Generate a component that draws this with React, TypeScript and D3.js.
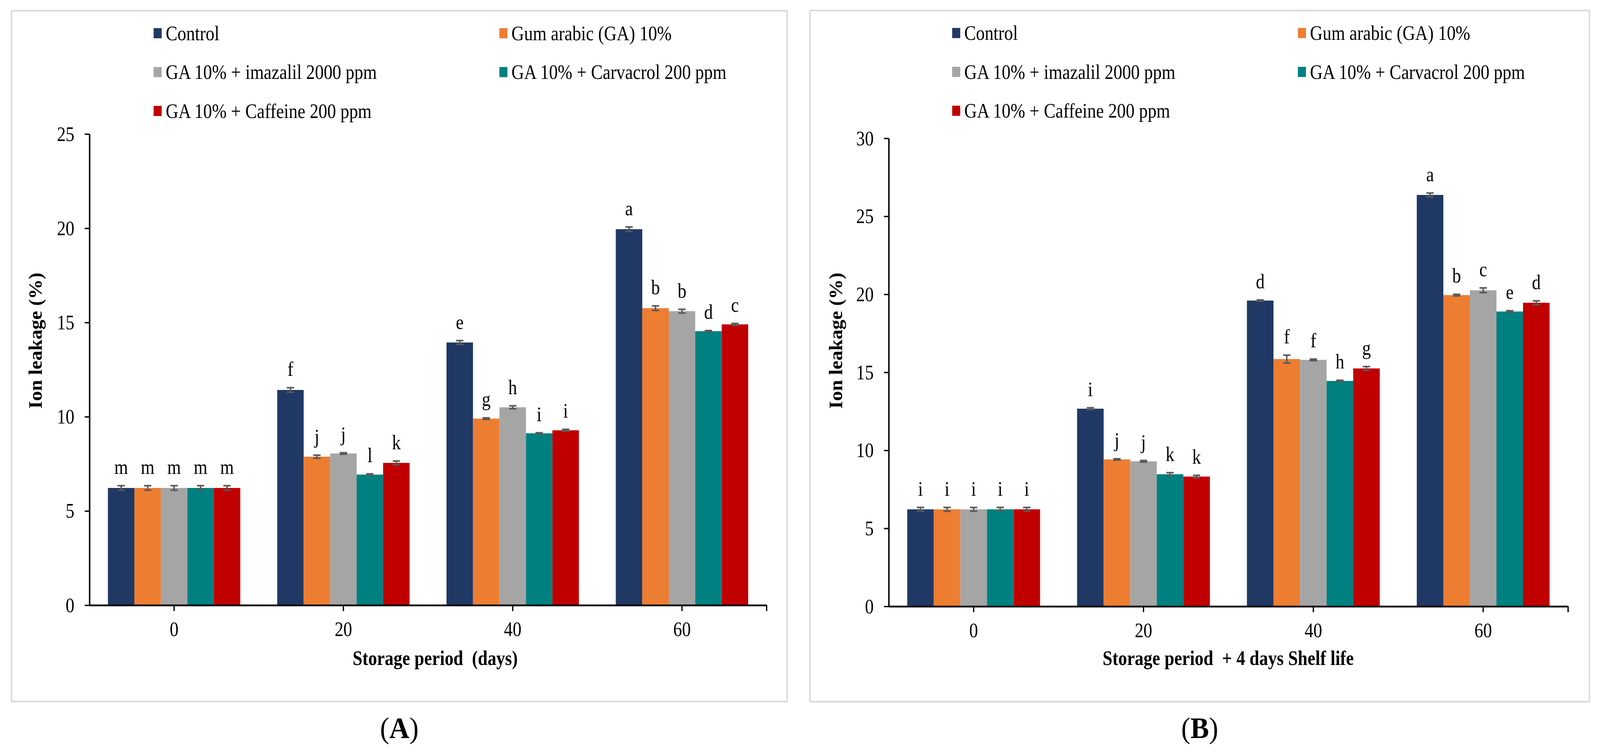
import React, { useEffect, useRef } from "react";
import * as d3 from "d3";

// categories and series
const periods = ["0", "20", "40", "60"];
const treatments = [
  "Control",
  "Gum arabic (GA) 10%",
  "GA 10% + imazalil 2000 ppm",
  "GA 10% + Carvacrol 200 ppm",
  "GA 10% + Caffeine 200 ppm",
];
const colors = ["#203864", "#ED7D31", "#A5A5A5", "#008080", "#C00000"];

// (A) storage period, rows = treatments, columns = periods
const valuesA = [
  [6.22, 11.42, 13.94, 19.95],
  [6.22, 7.88, 9.9, 15.76],
  [6.22, 8.05, 10.5, 15.6],
  [6.22, 6.93, 9.12, 14.54],
  [6.22, 7.55, 9.28, 14.9],
];
const errorsA = [
  [0.12, 0.12, 0.1, 0.12],
  [0.12, 0.08, 0.04, 0.12],
  [0.12, 0.04, 0.08, 0.1],
  [0.12, 0.04, 0.03, 0.03],
  [0.12, 0.1, 0.05, 0.05],
];
const lettersA = [
  ["m", "f", "e", "a"],
  ["m", "j", "g", "b"],
  ["m", "j", "h", "b"],
  ["m", "l", "i", "d"],
  ["m", "k", "i", "c"],
];

// (B) storage period + 4 days shelf life
const valuesB = [
  [6.22, 12.67, 19.6, 26.37],
  [6.22, 9.42, 15.85, 19.95],
  [6.22, 9.3, 15.8, 20.26],
  [6.22, 8.47, 14.45, 18.9],
  [6.22, 8.32, 15.25, 19.46],
];
const errorsB = [
  [0.12, 0.06, 0.04, 0.12],
  [0.12, 0.04, 0.25, 0.05],
  [0.12, 0.05, 0.05, 0.15],
  [0.12, 0.1, 0.04, 0.05],
  [0.12, 0.08, 0.12, 0.12],
];
const lettersB = [
  ["i", "i", "d", "a"],
  ["i", "j", "f", "b"],
  ["i", "j", "f", "c"],
  ["i", "k", "h", "e"],
  ["i", "k", "g", "d"],
];

const yTicksA = [0, 5, 10, 15, 20, 25];
const yTicksB = [0, 5, 10, 15, 20, 25, 30];

const W = 4364,
  H = 1935;
const FONT = "'Times New Roman', 'Liberation Serif', serif";
const SQ = "scale(0.92,1)"; // the source text is a little condensed

interface PanelCfg {
  label: string;
  box: { x: number; y: number; w: number; h: number };
  plot: { left: number; right: number; top: number; bottom: number };
  yMax: number;
  yTicks: number[];
  values: number[][];
  errors: number[][];
  letters: string[][];
  xTitle: string;
  xTitleX: number;
  yTitleX: number;
}

const panels: PanelCfg[] = [
  {
    label: "A",
    box: { x: 31.5, y: 27.5, w: 2115.5, h: 1768 },
    plot: { left: 244, right: 2091, top: 343, bottom: 1549 },
    yMax: 25,
    yTicks: yTicksA,
    values: valuesA,
    errors: errorsA,
    letters: lettersA,
    xTitle: "Storage period  (days)",
    xTitleX: 1187,
    yTitleX: 114,
  },
  {
    label: "B",
    box: { x: 2209.5, y: 27, w: 2125.5, h: 1769 },
    plot: { left: 2424, right: 4277, top: 354, bottom: 1552 },
    yMax: 30,
    yTicks: yTicksB,
    values: valuesB,
    errors: errorsB,
    letters: lettersB,
    xTitle: "Storage period  + 4 days Shelf life",
    xTitleX: 3350,
    yTitleX: 2297,
  },
];

function drawPanel(svg: d3.Selection<SVGSVGElement, unknown, null, undefined>, p: PanelCfg) {
  const g = svg.append("g").attr("font-family", FONT);

  g.append("rect")
    .attr("x", p.box.x)
    .attr("y", p.box.y)
    .attr("width", p.box.w)
    .attr("height", p.box.h)
    .attr("fill", "#fff")
    .attr("stroke", "#d9d9d9")
    .attr("stroke-width", 4);

  // Scales
  const x0 = d3
    .scaleBand()
    .domain(periods)
    .range([p.plot.left, p.plot.right])
    .paddingInner(0.218)
    .paddingOuter(0.109);
  const x1 = d3.scaleBand().domain(treatments).range([0, x0.bandwidth()]);
  const y = d3.scaleLinear().domain([0, p.yMax]).range([p.plot.bottom, p.plot.top]);

  const rows = treatments.flatMap((t, ti) =>
    periods.map((per, pi) => ({
      t,
      ti,
      per,
      value: p.values[ti][pi],
      err: p.errors[ti][pi],
      letter: p.letters[ti][pi],
    }))
  );
  const cx = (d: (typeof rows)[number]) => (x0(d.per) ?? 0) + (x1(d.t) ?? 0) + x1.bandwidth() / 2;

  // Bars
  g.append("g")
    .selectAll("rect")
    .data(rows)
    .enter()
    .append("rect")
    .attr("x", (d) => (x0(d.per) ?? 0) + (x1(d.t) ?? 0))
    .attr("y", (d) => y(d.value))
    .attr("width", x1.bandwidth())
    .attr("height", (d) => y(0) - y(d.value))
    .attr("fill", (d) => colors[d.ti]);

  // Error bars
  const eb = g.append("g").attr("stroke", "#595959").attr("stroke-width", 4);
  rows.forEach((d) => {
    const x = cx(d);
    const yt = y(d.value + d.err),
      yb = y(d.value - d.err);
    eb.append("line").attr("x1", x).attr("x2", x).attr("y1", yt).attr("y2", yb);
    eb.append("line").attr("x1", x - 10).attr("x2", x + 10).attr("y1", yt).attr("y2", yt);
    eb.append("line").attr("x1", x - 10).attr("x2", x + 10).attr("y1", yb).attr("y2", yb);
  });

  // Significance letters
  g.append("g")
    .selectAll("text")
    .data(rows)
    .enter()
    .append("text")
    .attr("transform", (d) => `translate(${cx(d)},${y(d.value + d.err) - 30}) ${SQ}`)
    .attr("text-anchor", "middle")
    .attr("font-size", 52)
    .text((d) => d.letter);

  // Axes
  const yAxis = g
    .append("g")
    .attr("transform", `translate(${p.plot.left},0)`)
    .call(d3.axisLeft(y).tickValues(p.yTicks).tickSize(13).tickSizeOuter(0))
    .attr("font-size", 52)
    .attr("font-family", FONT);
  yAxis.select(".domain").attr("stroke", "#000").attr("stroke-width", 4);
  yAxis.selectAll(".tick line").attr("stroke", "#000").attr("stroke-width", 3.5);
  yAxis
    .selectAll(".tick text")
    .attr("x", null)
    .attr("dy", null)
    .attr("fill", "#000")
    .attr("transform", `translate(-41,17) ${SQ}`);

  const xAxis = g
    .append("g")
    .attr("transform", `translate(0,${p.plot.bottom})`)
    .call(d3.axisBottom(x0).tickSize(15).tickSizeOuter(0))
    .attr("font-size", 52)
    .attr("font-family", FONT);
  xAxis.select(".domain").attr("stroke", "#000").attr("stroke-width", 4.5);
  xAxis.selectAll(".tick line").attr("stroke", "#000").attr("stroke-width", 3.5);
  xAxis
    .selectAll(".tick text")
    .attr("y", null)
    .attr("dy", null)
    .attr("fill", "#000")
    .attr("transform", `translate(0,79) ${SQ}`);
  xAxis
    .append("line")
    .attr("x1", p.plot.right)
    .attr("x2", p.plot.right)
    .attr("y1", 0)
    .attr("y2", 15)
    .attr("stroke", "#000")
    .attr("stroke-width", 3.5);

  // Axis titles
  g.append("text")
    .attr("transform", `translate(${p.xTitleX},1702) ${SQ}`)
    .attr("text-anchor", "middle")
    .attr("font-size", 52)
    .attr("font-weight", "bold")
    .style("white-space", "pre")
    .text(p.xTitle);

  g.append("text")
    .attr("transform", `translate(${p.yTitleX},872) rotate(-90)`)
    .attr("text-anchor", "middle")
    .attr("font-size", 51)
    .attr("font-weight", "bold")
    .text("Ion leakage (%)");

  // Legend
  const leg = g.append("g");
  treatments.forEach((t, i) => {
    const lx = p.box.x + (i % 2 === 0 ? 387.5 : 1330.5);
    const ly = p.box.y + 57.5 + Math.floor(i / 2) * 99.5;
    leg
      .append("rect")
      .attr("x", lx)
      .attr("y", ly - 13)
      .attr("width", 22)
      .attr("height", 26)
      .attr("fill", colors[i]);
    leg
      .append("text")
      .attr("transform", `translate(${lx + 33},${ly + 17.5}) ${SQ}`)
      .attr("font-size", 52)
      .text(t);
  });

  // Panel label
  const lab = g
    .append("text")
    .attr("x", p.box.x + p.box.w / 2)
    .attr("y", 1889)
    .attr("text-anchor", "middle")
    .attr("font-size", 76);
  lab.append("tspan").text("(");
  lab.append("tspan").attr("font-weight", "bold").text(p.label);
  lab.append("tspan").text(")");
}

const App: React.FC = () => {
  const chartRef = useRef<SVGSVGElement | null>(null);

  useEffect(() => {
    if (!chartRef.current) return;
    const svg = d3.select(chartRef.current);
    svg.selectAll("*").remove();
    svg.append("rect").attr("width", W).attr("height", H).attr("fill", "#fff");
    panels.forEach((p) => drawPanel(svg, p));
  }, []);

  // stretch to the whole viewport so the figure fills the shot edge to edge
  return (
    <svg
      ref={chartRef}
      viewBox={`0 0 ${W} ${H}`}
      preserveAspectRatio="none"
      style={{ position: "absolute", left: 0, top: 0, width: "100vw", height: "100vh", display: "block" }}
    ></svg>
  );
};

export default App;
